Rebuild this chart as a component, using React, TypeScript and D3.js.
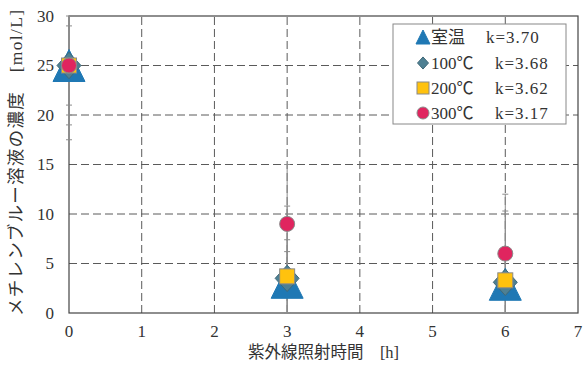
import React from "react";
import * as d3 from "d3";

// Irradiation times [h]
const times = [0, 3, 6];
const xTicks = [0, 1, 2, 3, 4, 5, 6, 7];
const yTicks = [0, 5, 10, 15, 20, 25, 30];

// Concentration per treatment temperature
const seriesNames = ["室温", "100℃", "200℃", "300℃"];
const rateLabels = ["k=3.70", "k=3.68", "k=3.62", "k=3.17"];
const roomTemp = [25, 3.1, 2.9];
const temp100 = [25, 3.5, 3.1];
const temp200 = [25, 3.7, 3.3];
const temp300 = [25, 9, 6];
// Error bar half-widths
const roomTempErr = [7.5, 3.1, 2.9];
const temp100Err = [6, 7.3, 7.2];
const temp200Err = [4, 3.7, 3.3];
const temp300Err = [5, 6, 6];

const W = 584;
const H = 365;
const M = { left: 69, right: 6, top: 16, bottom: 52 };

const FONT = "'Liberation Serif', 'Noto Sans CJK JP', serif";

type Shape = "triangle" | "diamond" | "square" | "circle";
const shapes: Shape[] = ["triangle", "diamond", "square", "circle"];
const fills = ["#1f78b4", "#4e8093", "#ffc20e", "#e0255f"];
const strokes = ["#1f78b4", "#3f6878", "#8a8a8a", "#8a8a8a"];
const markerSize = [32, 24, 15, 15];
const legendSize = [14, 11, 12, 12];

function Marker({ shape, cx, cy, size, fill, stroke }: { shape: Shape; cx: number; cy: number; size: number; fill: string; stroke: string }) {
  const h = size / 2;
  if (shape === "triangle") {
    const pts = `${cx},${cy - h} ${cx + h},${cy + h} ${cx - h},${cy + h}`;
    return <polygon points={pts} fill={fill} stroke={stroke} strokeWidth={1} />;
  }
  if (shape === "diamond") {
    const pts = `${cx},${cy - h * 1.1} ${cx + h},${cy} ${cx},${cy + h * 1.1} ${cx - h},${cy}`;
    return <polygon points={pts} fill={fill} stroke={stroke} strokeWidth={1} />;
  }
  if (shape === "square") {
    return <rect x={cx - h} y={cy - h} width={size} height={size} fill={fill} stroke={stroke} strokeWidth={1} />;
  }
  return <circle cx={cx} cy={cy} r={h} fill={fill} stroke={stroke} strokeWidth={1} />;
}

export default function App() {
  const x = d3.scaleLinear().domain([0, 7]).range([M.left, W - M.right]);
  const y = d3.scaleLinear().domain([0, 30]).range([H - M.bottom, M.top]);
  const values = [roomTemp, temp100, temp200, temp300];
  const errs = [roomTempErr, temp100Err, temp200Err, temp300Err];
  const clampY = (v: number) => y(Math.max(0, Math.min(30, v)));

  const legendX = 393;
  const legendY = 24;
  const legendW = 173;
  const legendH = 100;
  const rowYs = [37, 63, 88, 113];

  return (
    <div style={{ position: "absolute", left: 0, top: 0 }}>
      <svg width={W} height={H} style={{ display: "block", background: "#fff" }}>
        {/* grid */}
        {yTicks.filter((t) => t > 0 && t < 30).map((t) => (
          <line key={`gy${t}`} x1={x(0)} x2={x(7)} y1={y(t)} y2={y(t)} stroke="#5a5a5a" strokeWidth={1} strokeDasharray="8,4" />
        ))}
        {xTicks.filter((t) => t > 0 && t < 7).map((t) => (
          <line key={`gx${t}`} x1={x(t)} x2={x(t)} y1={y(0)} y2={y(30)} stroke="#5a5a5a" strokeWidth={1} strokeDasharray="8,4" />
        ))}
        {/* frame */}
        <rect x={x(0)} y={y(30)} width={x(7) - x(0)} height={y(0) - y(30)} fill="none" stroke="#444" strokeWidth={1.2} />

        {/* error bars */}
        {values.map((vals, si) =>
          vals.map((v, i) => {
            const e = errs[si][i];
            const cx = x(times[i]);
            const top = v + e;
            const bot = v - e;
            return (
              <g key={`e${si}-${i}`} stroke="#8c8c8c" strokeWidth={1}>
                <line x1={cx} x2={cx} y1={clampY(bot)} y2={clampY(top)} />
                {top <= 30 && <line x1={cx - 3} x2={cx + 3} y1={y(top)} y2={y(top)} />}
                {bot >= 0 && <line x1={cx - 3} x2={cx + 3} y1={y(bot)} y2={y(bot)} />}
              </g>
            );
          })
        )}

        {/* markers */}
        {values.map((vals, si) =>
          vals.map((v, i) => (
            <Marker key={`m${si}-${i}`} shape={shapes[si]} cx={x(times[i])} cy={y(v)} size={markerSize[si]} fill={fills[si]} stroke={strokes[si]} />
          ))
        )}

        {/* y ticks */}
        {yTicks.map((t) => (
          <text key={`yt${t}`} x={x(0) - 15} y={y(t)} dy="0.35em" textAnchor="end" fontFamily={FONT} fontSize={17} fill="#333">
            {t}
          </text>
        ))}
        {/* x ticks */}
        {xTicks.map((t) => (
          <text key={`xt${t}`} x={x(t)} y={331} dy="0.35em" textAnchor="middle" fontFamily={FONT} fontSize={17} fill="#333">
            {t}
          </text>
        ))}

        {/* axis titles */}
        <text x={(x(0) + x(7)) / 2} y={352} dy="0.35em" textAnchor="middle" fontFamily={FONT} fontSize={16.5} fill="#333">
          紫外線照射時間　[h]
        </text>
        <text
          transform={`translate(16,${163}) rotate(-90)`}
          dy="0.35em"
          textAnchor="middle"
          fontFamily={FONT}
          fontSize={17.5}
          textLength={306}
          lengthAdjust="spacing"
          fill="#333"
        >
          メチレンブルー溶液の濃度　[mol/L]
        </text>

        {/* legend */}
        <rect x={legendX} y={legendY} width={legendW} height={legendH} fill="#fff" stroke="#888" strokeWidth={1} />
        {seriesNames.map((name, i) => (
          <g key={`lg${i}`}>
            <Marker shape={shapes[i]} cx={423} cy={rowYs[i]} size={legendSize[i]} fill={fills[i]} stroke={strokes[i]} />
            <text x={431} y={rowYs[i]} dy="0.35em" fontFamily={FONT} fontSize={17} fill="#333">
              {name}
            </text>
            <text x={i === 0 ? 486 : 495} y={rowYs[i]} dy="0.35em" fontFamily={FONT} fontSize={17} letterSpacing={1} fill="#333">
              {rateLabels[i]}
            </text>
          </g>
        ))}
      </svg>
    </div>
  );
}
